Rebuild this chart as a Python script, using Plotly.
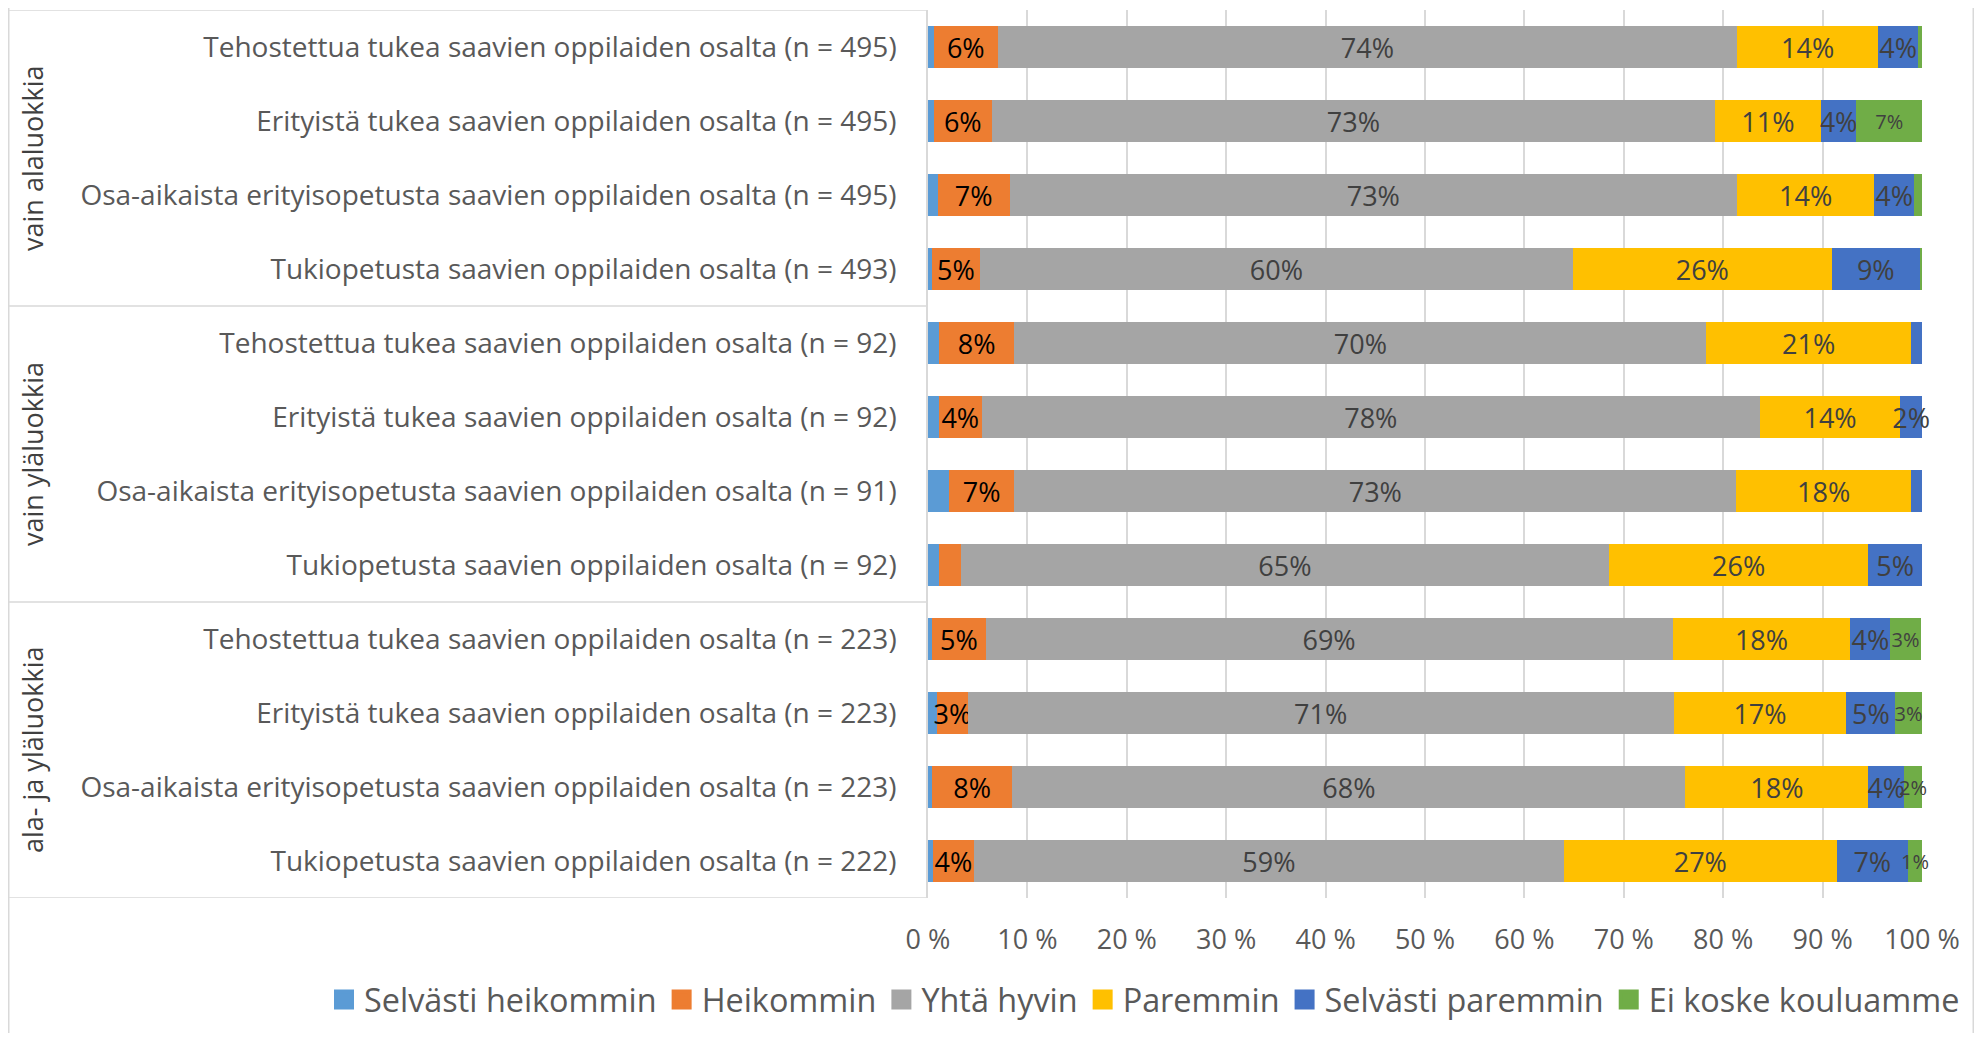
import plotly.graph_objects as go

# ---- data ----
groups = ["vain alaluokkia", "vain yläluokkia", "ala- ja yläluokkia"]
group_sizes = [4, 4, 4]
categories = [
    "Tehostettua tukea saavien oppilaiden osalta (n = 495)",
    "Erityistä tukea saavien oppilaiden osalta (n = 495)",
    "Osa-aikaista erityisopetusta saavien oppilaiden osalta (n = 495)",
    "Tukiopetusta saavien oppilaiden osalta (n = 493)",
    "Tehostettua tukea saavien oppilaiden osalta (n = 92)",
    "Erityistä tukea saavien oppilaiden osalta (n = 92)",
    "Osa-aikaista erityisopetusta saavien oppilaiden osalta (n = 91)",
    "Tukiopetusta saavien oppilaiden osalta (n = 92)",
    "Tehostettua tukea saavien oppilaiden osalta (n = 223)",
    "Erityistä tukea saavien oppilaiden osalta (n = 223)",
    "Osa-aikaista erityisopetusta saavien oppilaiden osalta (n = 223)",
    "Tukiopetusta saavien oppilaiden osalta (n = 222)",
]
series_names = ["Selvästi heikommin", "Heikommin", "Yhtä hyvin", "Paremmin",
                "Selvästi paremmin", "Ei koske kouluamme"]
selvasti_heikommin = [0.6, 0.6, 1.0, 0.4, 1.1, 1.1, 2.1, 1.1, 0.4, 0.9, 0.4, 0.5]
heikommin = [6.4, 5.8, 7.2, 4.8, 7.6, 4.3, 6.6, 2.2, 5.4, 3.1, 8.1, 4.1]
yhta_hyvin = [74.4, 72.8, 73.2, 59.7, 69.6, 78.3, 72.6, 65.2, 69.1, 71.0, 67.7, 59.4]
paremmin = [14.2, 10.6, 13.8, 26.0, 20.6, 14.1, 17.6, 26.1, 17.9, 17.4, 18.4, 27.4]
selvasti_paremmin = [4.0, 3.6, 4.0, 8.9, 1.1, 2.2, 1.1, 5.4, 4.0, 4.9, 3.6, 7.2]
ei_koske = [0.4, 6.6, 0.8, 0.2, 0.0, 0.0, 0.0, 0.0, 3.1, 2.7, 1.8, 1.4]
x_ticks = [0, 10, 20, 30, 40, 50, 60, 70, 80, 90, 100]
x_tick_labels = [f"{v} %" for v in x_ticks]

series_values = [selvasti_heikommin, heikommin, yhta_hyvin, paremmin,
                 selvasti_paremmin, ei_koske]
colors = ["#5B9BD5", "#ED7D31", "#A5A5A5", "#FFC000", "#4472C4", "#70AD47"]
label_min = [None, 3, 0, 0, 2, 1]          # smallest value that gets a label
label_color = ["#404040", "#000000", "#404040", "#404040", "#404040", "#404040"]
label_size = [27, 27, 27, 27, 27, 20]

FONT = "Open Sans"
W, H = 1966, 1025
ML, MR, MT, MB = 920, 51, 2, 135
PW = W - ML - MR
PH = H - MT - MB

y_pos = list(range(len(categories)))

fig = go.Figure()
for name, vals, col, lm, lc, ls in zip(series_names, series_values, colors,
                                       label_min, label_color, label_size):
    if lm is None:
        txt = ["" for _ in vals]
    else:
        txt = [f"{int(v + 0.5)}%" if v >= lm else "" for v in vals]
    fig.add_trace(go.Bar(
        y=y_pos, x=vals, name=name, orientation="h", showlegend=False,
        marker=dict(color=col, line=dict(width=0)),
        text=txt, textposition="inside", insidetextanchor="middle",
        constraintext="none", textangle=0, cliponaxis=False,
        textfont=dict(family=FONT, size=ls, color=lc),
        hoverinfo="x+name",
    ))
# legend entries (square swatches like the original)
for name, col in zip(series_names, colors):
    fig.add_trace(go.Scatter(
        x=[None], y=[None], mode="markers", name=name,
        marker=dict(symbol="square", size=16, color=col,
                    line=dict(color=col, width=4)),
        hoverinfo="skip",
    ))

shapes = []
def px_to_paper_x(px):
    return (px - ML) / PW

# group separators (left of the axis)
bounds = [-0.5]
for s in group_sizes:
    bounds.append(bounds[-1] + s)
for b in bounds:
    shapes.append(dict(type="line", xref="paper", yref="y",
                       x0=px_to_paper_x(0), x1=0, y0=b, y1=b,
                       line=dict(color="#d9d9d9", width=1.5)))
# chart border (left / right)
for xp in [0.75, W - 0.75]:
    shapes.append(dict(type="line", xref="paper", yref="paper",
                       x0=px_to_paper_x(xp), x1=px_to_paper_x(xp),
                       y0=-(MB + 10) / PH, y1=1 + (MT + 10) / PH,
                       line=dict(color="#d9d9d9", width=1.5)))

annotations = []
start = 0
for g, s in zip(groups, group_sizes):
    annotations.append(dict(text=g, xref="paper", yref="y",
                            x=px_to_paper_x(24), y=start + (s - 1) / 2,
                            textangle=-90, showarrow=False,
                            xanchor="center", yanchor="middle",
                            font=dict(family=FONT, size=27, color="#404040")))
    start += s

fig.update_layout(
    width=W, height=H, autosize=False,
    margin=dict(l=ML, r=MR, t=MT, b=MB, pad=0, autoexpand=False),
    barmode="stack", bargap=0.43,
    plot_bgcolor="white", paper_bgcolor="white",
    font=dict(family=FONT, color="#595959"),
    xaxis=dict(range=[0, 100.1], tickvals=x_ticks, ticktext=x_tick_labels,
               showgrid=True, gridcolor="#d9d9d9", gridwidth=1.5,
               zeroline=False, showline=False, ticks="",
               tickfont=dict(family=FONT, size=27, color="#595959"),
               ticklabelstandoff=23),
    yaxis=dict(range=[11.5, -0.5], tickvals=y_pos, ticktext=categories,
               showgrid=False, zeroline=False, showline=True,
               linecolor="#d9d9d9", linewidth=1.5, ticks="",
               tickfont=dict(family=FONT, size=28, color="#595959"),
               ticklabelstandoff=24),
    legend=dict(orientation="h", x=px_to_paper_x(316), xanchor="left",
                y=(PH - (992 - MT)) / PH, yanchor="middle",
                font=dict(family=FONT, size=32.4, color="#595959"),
                traceorder="normal", itemsizing="trace"),
    shapes=shapes, annotations=annotations,
    uniformtext=dict(mode=False),
)

fig.write_html("out.html")
